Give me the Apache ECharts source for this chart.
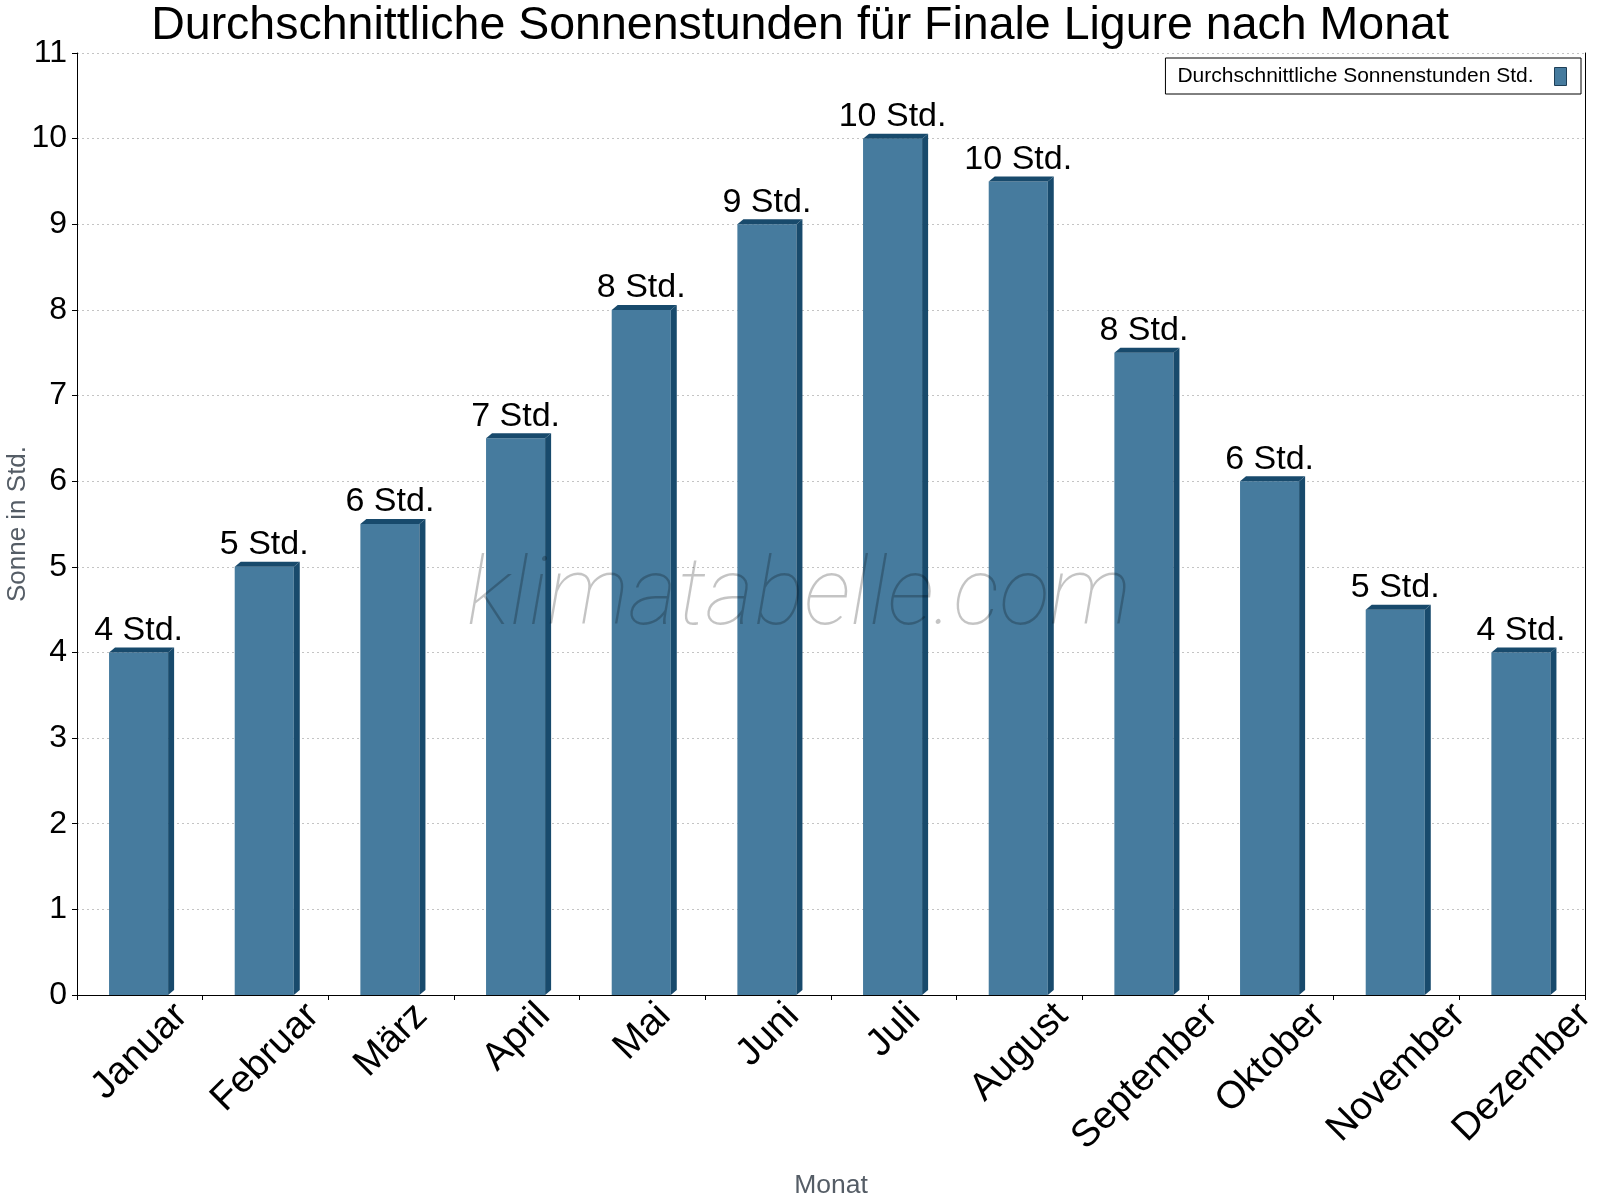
<!DOCTYPE html>
<html><head><meta charset="utf-8">
<script src="https://cdn.jsdelivr.net/npm/echarts@6/dist/echarts.min.js"></script>
<style>html,body{margin:0;padding:0;background:#fff}#chart{width:1600px;height:1200px}</style>
</head><body><div id="chart"></div>
<script>
const months = ['Januar','Februar','März','April','Mai','Juni','Juli','August','September','Oktober','November','Dezember'];
const sunHours = [4, 5, 5.5, 6.5, 8, 9, 10, 9.5, 7.5, 6, 4.5, 4];
const yMin = 0, yMax = 11, yStep = 1;
const seriesName = 'Durchschnittliche Sonnenstunden Std.';
const titleText = 'Durchschnittliche Sonnenstunden für Finale Ligure nach Monat';
const yAxisTitle = 'Sonne in Std.';
const xAxisTitle = 'Monat';
const watermarkText = 'klimatabelle.com';
const unitSuffix = ' Std.';

const FONT = '"Liberation Sans", Arial, sans-serif';
const FRONT = '#467b9e', DARK = '#184a6c';
const MONTH_FS = 38.5;
const ctx = document.createElement('canvas').getContext('2d');
ctx.font = MONTH_FS + 'px "Liberation Sans"';
// rotated labels hang from a common top edge, centred on their category
const monthData = months.map(m => {
  const L = ctx.measureText(m).width;
  return { value: m, textStyle: {
    align: 'center', verticalAlign: 'middle', fontSize: MONTH_FS, color: '#000', fontFamily: FONT,
    lineHeight: L / 2, padding: [0, L / 2, 0, 0] } };
});

const chart = echarts.init(document.getElementById('chart'), null, { renderer: 'canvas' });
chart.setOption({
  animation: false,
  backgroundColor: '#fff',
  title: { text: titleText, left: 'center', top: 3, padding: 0,
    textStyle: { fontSize: 46.5, fontWeight: 'normal', color: '#000', fontFamily: FONT } },
  legend: {
    right: 19, top: 58, align: 'right', itemWidth: 12, itemHeight: 18,
    padding: [8, 14, 7, 12], borderColor: '#000', borderWidth: 1, backgroundColor: '#fff',
    textStyle: { fontSize: 21, color: '#000', fontFamily: FONT, padding: [0, 16, 0, 0] },
    data: [{ name: seriesName, icon: 'rect', itemStyle: { color: FRONT, borderColor: '#1e3f57', borderWidth: 1 } }]
  },
  grid: { left: 77, right: 15, top: 53, bottom: 205, containLabel: false, outerBoundsMode: 'none' },
  xAxis: {
    type: 'category', data: monthData, boundaryGap: true,
    axisLine: { show: true, lineStyle: { color: '#000', width: 1 } },
    axisTick: { show: true, length: 5, interval: 0, alignWithLabel: false, lineStyle: { color: '#000' } },
    axisLabel: { interval: 0, rotate: 45, align: 'center', verticalAlign: 'middle', margin: 15,
      fontSize: MONTH_FS, color: '#000', fontFamily: FONT,
      formatter: function (v) { return '\n' + v; } },
    splitLine: { show: false },
    name: xAxisTitle, nameLocation: 'middle', nameGap: 177, nameMoveOverlap: false,
    nameTextStyle: { fontSize: 26.5, color: '#555d66', fontFamily: FONT }
  },
  yAxis: [{
    type: 'value', min: yMin, max: yMax, interval: yStep,
    axisLine: { show: true, lineStyle: { color: '#000', width: 1 } },
    axisTick: { show: true, length: 5, lineStyle: { color: '#000' } },
    axisLabel: { fontSize: 32, color: '#000', fontFamily: FONT, margin: 10 },
    splitLine: { show: true, lineStyle: { color: '#c4c4c4', type: [2, 3] } },
    name: yAxisTitle, nameLocation: 'middle', nameGap: 46, nameMoveOverlap: false,
    nameTextStyle: { fontSize: 26, color: '#555d66', fontFamily: FONT }
  }, {
    type: 'value', position: 'right', min: yMin, max: yMax, interval: yStep,
    axisLine: { show: true, lineStyle: { color: '#000', width: 1 } },
    axisTick: { show: false }, axisLabel: { show: false }, splitLine: { show: false }
  }],
  graphic: [{
    type: 'text', x: 799, y: 600, z: 100,
    style: { text: watermarkText, font: 'italic 100 94px Roboto', fill: 'rgba(0,0,0,0.23)',
      align: 'center', verticalAlign: 'middle' }
  }],
  series: [{
    name: seriesName, type: 'custom', xAxisIndex: 0, yAxisIndex: 0,
    itemStyle: { color: FRONT },
    data: sunHours.map((v, i) => [i, v]),
    renderItem: function (params, api) {
      const v = api.value(1);
      const top = api.coord([api.value(0), v]);
      const base = api.coord([api.value(0), 0]);
      const band = api.size([1, 0])[0];
      const x0 = top[0] - band * 0.245;
      const fw = band * 0.47;
      const x1 = x0 + fw;
      const dx = 6, dy = 5;
      return { type: 'group', children: [
        { type: 'rect', shape: { x: x0, y: top[1], width: fw, height: base[1] - top[1] }, style: { fill: FRONT } },
        { type: 'polygon', shape: { points: [[x1, top[1]], [x1 + dx, top[1] - dy], [x1 + dx, base[1] - dy], [x1, base[1]]] }, style: { fill: DARK } },
        { type: 'polygon', shape: { points: [[x0, top[1]], [x0 + dx, top[1] - dy], [x1 + dx, top[1] - dy], [x1, top[1]]] }, style: { fill: DARK } },
        { type: 'text', x: (x0 + x1) / 2, y: top[1] - 22,
          style: { text: Math.round(v) + unitSuffix, fontSize: 34, fontFamily: FONT, fill: '#000', align: 'center', verticalAlign: 'middle' } }
      ] };
    }
  }]
});
</script></body></html>
